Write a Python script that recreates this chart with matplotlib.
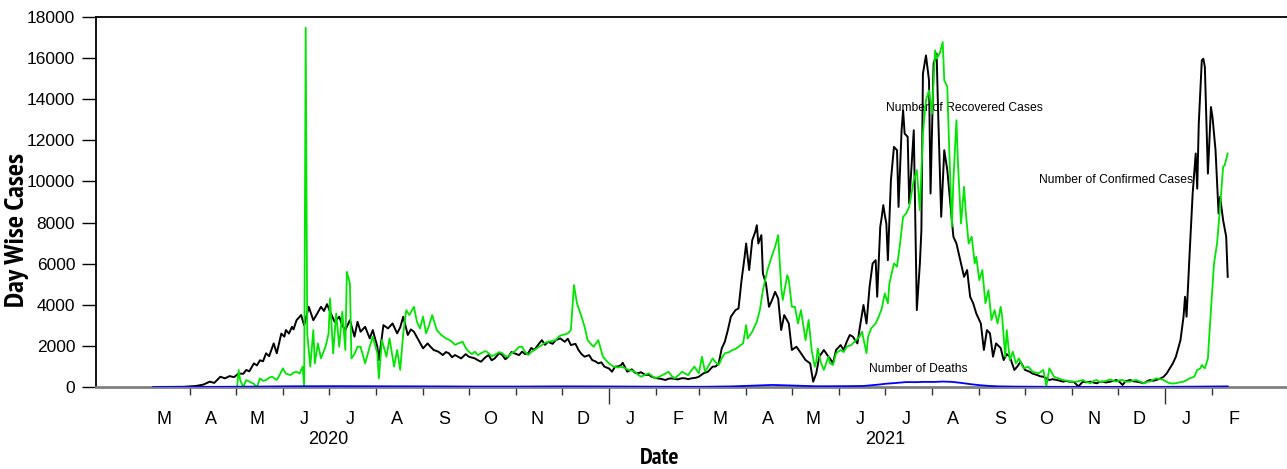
import pandas as pd
import matplotlib
matplotlib.use("Agg")
import matplotlib.pyplot as plt
from matplotlib import font_manager as fm
from matplotlib.ticker import FixedLocator, NullFormatter

# ── Data (day index since first case, value) ──
START = pd.Timestamp("2020-03-08")

confirmed = [
    (0, 0), (20, 10), (28, 50), (33, 120), (37, 260), (40, 200), (44, 500), (47, 420), (50, 530),
    (53, 480), (56, 660), (59, 640), (61, 830), (63, 760), (66, 1150), (68, 1050), (70, 1300),
    (72, 1250), (74, 1640), (76, 1500), (79, 2120), (81, 1640), (84, 2600), (86, 2450), (87, 2770),
    (89, 2600), (91, 2930), (92, 2800), (94, 3250), (97, 3500), (99, 3000), (102, 3900), (105, 3250),
    (107, 3500), (110, 3900), (112, 3700), (114, 4030), (116, 3660), (119, 3170), (122, 3420),
    (124, 3000), (126, 2770), (129, 3250), (132, 2450), (134, 3170), (136, 2690), (139, 2930),
    (142, 2365), (144, 2770), (147, 1960), (148, 1310), (151, 3010), (154, 2850), (157, 3090),
    (160, 2610), (162, 2900), (164, 3420), (167, 2530), (169, 2800), (171, 2690), (174, 2280),
    (177, 1880), (180, 2120), (182, 1950), (184, 1800), (187, 1720), (190, 1555), (192, 1700),
    (194, 1640), (196, 1450), (198, 1555), (202, 1390), (205, 1600), (207, 1475), (211, 1390),
    (213, 1300), (215, 1230), (218, 1450), (220, 1555), (222, 1300), (224, 1390), (227, 1650),
    (229, 1555), (231, 1350), (233, 1475), (235, 1700), (237, 1640), (240, 1550), (242, 1720),
    (244, 1600), (246, 1640), (248, 1900), (250, 1800), (253, 2100), (255, 2280), (257, 2050),
    (259, 2200), (262, 2100), (264, 2280), (267, 2365), (270, 2200), (272, 2350), (274, 2040),
    (277, 2100), (279, 1800), (281, 1600), (283, 1475), (286, 1550), (288, 1310), (290, 1250),
    (292, 1150), (294, 1200), (296, 990), (299, 900), (301, 745), (303, 990), (305, 1000),
    (307, 1070), (308, 1180), (311, 745), (314, 860), (316, 700), (318, 665), (320, 720), (323, 580),
    (325, 600), (327, 500), (329, 450), (331, 420), (333, 400), (336, 340), (338, 400), (340, 420),
    (344, 370), (347, 430), (349, 420), (351, 380), (353, 420), (356, 450), (358, 500), (361, 665),
    (364, 745), (367, 990), (369, 1000), (371, 1150), (373, 1880), (375, 2200), (377, 2770),
    (379, 3420), (382, 3740), (384, 3820), (386, 5200), (388, 6330), (389, 6980), (391, 5690),
    (393, 7140), (395, 7550), (396, 7870), (397, 6980), (399, 7390), (400, 5520), (402, 5040),
    (404, 3900), (406, 4230), (408, 4630), (410, 4310), (412, 2770), (414, 3500), (417, 3090),
    (419, 1800), (422, 1960), (425, 1640), (428, 1310), (431, 1150), (433, 260), (435, 665),
    (437, 1475), (440, 1800), (443, 1475), (444, 1390), (446, 1150), (448, 1800), (451, 2040),
    (453, 1800), (455, 2200), (457, 2530), (459, 2450), (462, 2120), (464, 3090), (466, 3990),
    (468, 3090), (470, 4880), (472, 6010), (474, 6170), (475, 4390), (477, 7790), (478, 8280),
    (479, 8850), (480, 8360), (481, 7950), (482, 6170), (484, 10060), (486, 11680), (488, 11520),
    (489, 8760), (491, 12490), (492, 13460), (493, 12330), (495, 12170), (496, 8930), (499, 12490),
    (501, 3740), (503, 6010), (504, 7630), (505, 15240), (507, 16130), (509, 14920), (510, 9410),
    (512, 15730), (514, 16220), (515, 13300), (517, 8280), (519, 11520), (521, 10550), (523, 8930),
    (525, 7310), (527, 6980), (529, 6330), (532, 5360), (534, 5690), (536, 4390), (538, 4070),
    (540, 3580), (543, 3090), (545, 1800), (547, 2770), (549, 2610), (551, 1475), (553, 2120),
    (556, 1900), (558, 1310), (560, 1600), (562, 1475), (565, 830), (567, 1000), (569, 1230),
    (572, 830), (575, 745), (577, 650), (580, 580), (582, 520), (584, 500), (586, 420), (588, 340),
    (590, 380), (593, 340), (595, 300), (597, 260), (599, 300), (601, 260), (604, 250), (607, 30),
    (610, 260), (612, 230), (615, 260), (617, 220), (619, 180), (621, 250), (623, 260), (625, 220),
    (628, 260), (630, 300), (632, 340), (634, 250), (636, 100), (638, 280), (641, 340), (643, 280),
    (645, 260), (648, 220), (650, 180), (652, 280), (654, 340), (656, 300), (658, 340), (661, 420),
    (663, 500), (665, 665), (667, 910), (669, 1150), (671, 1475), (674, 2280), (676, 3420),
    (677, 4390), (678, 3420), (680, 6500), (682, 9410), (684, 11360), (685, 9650), (686, 12810),
    (688, 15890), (689, 15970), (690, 15570), (692, 10380), (694, 13620), (695, 13140), (697, 11520),
    (699, 8440), (700, 9250), (702, 8110), (704, 7310), (705, 5360),
]

recovered = [
    (0, 0), (55, 0), (56, 830), (57, 340), (59, 0), (61, 340), (63, 260), (66, 150), (68, 0),
    (70, 420), (72, 300), (74, 340), (76, 450), (78, 500), (81, 340), (83, 600), (85, 910), (87, 650),
    (90, 580), (92, 700), (94, 745), (96, 650), (97, 830), (98, 990), (99, 0), (100, 17480),
    (101, 2600), (103, 990), (105, 2770), (106, 1150), (108, 2120), (110, 1390), (113, 1960),
    (115, 2600), (116, 4310), (118, 1640), (120, 3580), (122, 1960), (124, 3660), (126, 1800),
    (127, 5600), (129, 5040), (130, 1390), (132, 1600), (134, 1960), (136, 1960), (139, 1150),
    (142, 1960), (144, 2450), (147, 1640), (148, 420), (150, 2280), (153, 1475), (155, 2365),
    (158, 990), (160, 1800), (162, 830), (164, 2610), (166, 3740), (168, 3500), (171, 3900),
    (173, 3170), (175, 2850), (177, 3420), (179, 2610), (181, 3000), (183, 3500), (186, 2770),
    (189, 2530), (192, 2365), (194, 2300), (196, 2200), (198, 2050), (200, 2120), (203, 2200),
    (205, 1900), (207, 1720), (209, 1600), (211, 1720), (213, 1550), (215, 1640), (218, 1750),
    (220, 1640), (222, 1500), (224, 1555), (227, 1700), (229, 1640), (231, 1500), (233, 1475),
    (235, 1650), (237, 1720), (240, 1950), (242, 1960), (244, 1700), (246, 1555), (248, 1700),
    (250, 1800), (253, 1950), (255, 2040), (257, 2150), (259, 2200), (262, 2250), (264, 2280),
    (266, 2450), (268, 2530), (270, 2550), (272, 2610), (274, 2770), (276, 4960), (278, 4070),
    (281, 3420), (283, 2930), (285, 2280), (287, 2100), (289, 1960), (292, 2280), (295, 1475),
    (297, 1300), (299, 1150), (302, 990), (305, 950), (307, 990), (310, 900), (312, 830), (314, 800),
    (316, 745), (318, 600), (320, 500), (323, 600), (325, 665), (327, 550), (329, 420), (332, 500),
    (334, 580), (336, 650), (338, 745), (340, 550), (342, 420), (345, 600), (347, 745), (349, 650),
    (351, 580), (353, 800), (355, 990), (358, 665), (360, 1475), (362, 745), (364, 990), (367, 1390),
    (369, 1200), (371, 1070), (373, 1400), (375, 1640), (378, 1700), (380, 1800), (382, 1850),
    (384, 1960), (387, 2120), (389, 3010), (390, 2365), (393, 2690), (396, 3175), (398, 3740),
    (400, 4710), (403, 5690), (405, 6170), (408, 6820), (410, 7390), (412, 4880), (413, 4230),
    (416, 5440), (417, 5200), (419, 3900), (421, 3900), (423, 3090), (425, 3740), (428, 2280),
    (430, 3260), (432, 1800), (434, 990), (435, 1230), (436, 1880), (438, 1200), (440, 830),
    (443, 1475), (444, 1150), (446, 1070), (448, 1640), (451, 1800), (453, 1700), (455, 1960),
    (458, 2040), (461, 2280), (463, 2400), (465, 2690), (468, 1640), (469, 2450), (471, 2850),
    (474, 3090), (476, 3420), (478, 3820), (480, 4550), (482, 4070), (483, 5040), (486, 6010),
    (488, 5850), (490, 6980), (492, 8280), (494, 8440), (496, 8760), (499, 10060), (501, 10550),
    (503, 8600), (505, 12330), (507, 13950), (509, 14430), (511, 13300), (513, 16380), (514, 15970),
    (516, 16220), (518, 16780), (519, 14920), (521, 14600), (522, 12170), (524, 7790), (525, 10060),
    (527, 12980), (528, 10870), (530, 7950), (532, 9740), (533, 8600), (535, 6980), (537, 7310),
    (539, 6010), (540, 6330), (542, 5200), (544, 5690), (546, 4070), (548, 4710), (550, 3260),
    (552, 3740), (554, 3090), (556, 3900), (557, 3420), (559, 1475), (560, 2770), (562, 1310),
    (564, 1720), (566, 1150), (568, 1390), (571, 910), (574, 990), (577, 745), (581, 665), (584, 830),
    (586, 50), (588, 910), (591, 500), (594, 420), (597, 340), (600, 300), (602, 260), (606, 260),
    (610, 340), (612, 250), (615, 180), (617, 300), (619, 340), (621, 250), (623, 260), (626, 320),
    (628, 370), (630, 300), (632, 260), (634, 330), (636, 340), (638, 250), (641, 260), (643, 320),
    (645, 340), (648, 250), (650, 180), (652, 250), (654, 260), (656, 350), (658, 420), (661, 380),
    (663, 340), (665, 250), (667, 180), (669, 170), (671, 180), (673, 220), (676, 260), (678, 330),
    (680, 420), (683, 500), (685, 830), (687, 900), (688, 1070), (690, 910), (692, 1390),
    (693, 2610), (696, 6010), (698, 6980), (700, 8760), (702, 10710), (703, 10790), (705, 11360),
]

deaths = [
    (0, 0), (30, 5), (60, 15), (90, 35), (120, 40), (150, 35), (180, 30), (210, 22), (240, 22),
    (270, 30), (300, 25), (330, 15), (360, 10), (380, 30), (395, 70), (406, 100), (420, 70),
    (435, 35), (455, 40), (466, 50), (475, 110), (481, 160), (488, 200), (494, 240), (500, 235),
    (506, 250), (512, 245), (518, 265), (524, 250), (530, 200), (536, 140), (542, 90), (548, 55),
    (555, 30), (565, 20), (590, 8), (630, 5), (664, 8), (680, 15), (695, 25), (705, 30),
]

y_ticks = [0, 2000, 4000, 6000, 8000, 10000, 12000, 14000, 16000, 18000]
year_labels = ["2020", "2021"]
series_labels = ["Number of Recovered Cases", "Number of Confirmed Cases", "Number of Deaths"]


def to_dates(pairs):
    days = [p[0] for p in pairs]
    vals = [p[1] for p in pairs]
    return START + pd.to_timedelta(days, unit="D"), vals


def narrow_bold():
    # condensed bold face for the axis titles; pick deterministically, prefer a "Narrow" one
    found = sorted(
        f.fname for f in fm.fontManager.ttflist
        if f.stretch == "condensed" and "bold" in f.fname.lower()
        and "oblique" not in f.fname.lower() and "italic" not in f.fname.lower()
    )
    found.sort(key=lambda p: 0 if "narrow" in p.lower() else 1)
    if found:
        return fm.FontProperties(fname=found[0])
    return fm.FontProperties(family="Liberation Sans", weight="bold")


def fit(text, target_px, vertical):
    # scale the font so the rendered text spans target_px along its run
    fig.canvas.draw()
    bb = text.get_window_extent(fig.canvas.get_renderer())
    run = bb.height if vertical else bb.width
    text.set_fontsize(text.get_fontsize() * target_px / run)


plt.rcParams["font.family"] = ["Liberation Sans", "DejaVu Sans"]

W, H = 1287, 469
fig = plt.figure(figsize=(W / 100, H / 100), dpi=100)
ax = fig.add_axes([96 / W, 1 - 387 / H, (W - 96) / W, 370 / H])

cx, cy = to_dates(confirmed)
rx, ry = to_dates(recovered)
dx, dy = to_dates(deaths)
ax.plot(cx, cy, color="black", lw=1.4, zorder=3)
ax.plot(rx, ry, color="#00e600", lw=1.3, zorder=4)
ax.plot(dx, dy, color="#0000ff", lw=1.3, zorder=5)

ax.set_xlim(START - pd.Timedelta(days=37.6), START + pd.Timedelta(days=743.9))
ax.set_ylim(0, 18000)
ax.set_yticks(y_ticks)
ax.set_yticklabels([str(t) for t in y_ticks])
ax.tick_params(axis="y", direction="out", length=10, width=1, pad=5, labelsize=12.5)

# month boundaries as ticks, month initials centred in each month
month_starts = pd.date_range("2020-04-01", "2022-02-01", freq="MS")
month_mids = pd.date_range("2020-03-01", "2022-02-01", freq="MS") + pd.Timedelta(days=14)
ax.xaxis.set_major_locator(FixedLocator(matplotlib.dates.date2num(month_starts)))
ax.xaxis.set_major_formatter(NullFormatter())
ax.xaxis.set_minor_locator(FixedLocator(matplotlib.dates.date2num(month_mids)))
ax.set_xticklabels([d.strftime("%b")[0] for d in month_mids], minor=True)
ax.tick_params(axis="x", which="major", direction="out", length=6, width=1, color="#333333")
ax.tick_params(axis="x", which="minor", length=0, pad=17, labelsize=13)
for d, tick in zip(month_starts, ax.xaxis.get_major_ticks()):
    if d.month == 1:
        tick.tick1line.set_markersize(12)

trans = ax.get_xaxis_transform()
for lab in year_labels:
    ax.text(pd.Timestamp(f"{lab}-07-01"), -0.143, lab, transform=trans,
            ha="center", va="center", fontsize=13)

ax.spines["right"].set_visible(False)
ax.spines["top"].set_linewidth(1.3)
ax.spines["left"].set_linewidth(1.3)
ax.spines["bottom"].set_color("#808080")
ax.spines["bottom"].set_linewidth(2)

ax.text(0.663, 0.754, series_labels[0], transform=ax.transAxes, ha="left", va="center", fontsize=8.7)
ax.text(0.792, 0.559, series_labels[1], transform=ax.transAxes, ha="left", va="center", fontsize=8.7)
ax.text(0.649, 0.049, series_labels[2], transform=ax.transAxes, ha="left", va="center", fontsize=8.7)

fp = narrow_bold()
ylab = fig.text(17 / W, 1 - 230 / H, "Day Wise Cases", rotation=90, ha="center", va="center",
                fontproperties=fp, fontsize=16)
xlab = fig.text(660 / W, 1 - 458 / H, "Date", ha="center", va="center",
                fontproperties=fp, fontsize=15)
fit(ylab, 154, True)
fit(xlab, 40, False)

fig.savefig("out.png", dpi=100)
